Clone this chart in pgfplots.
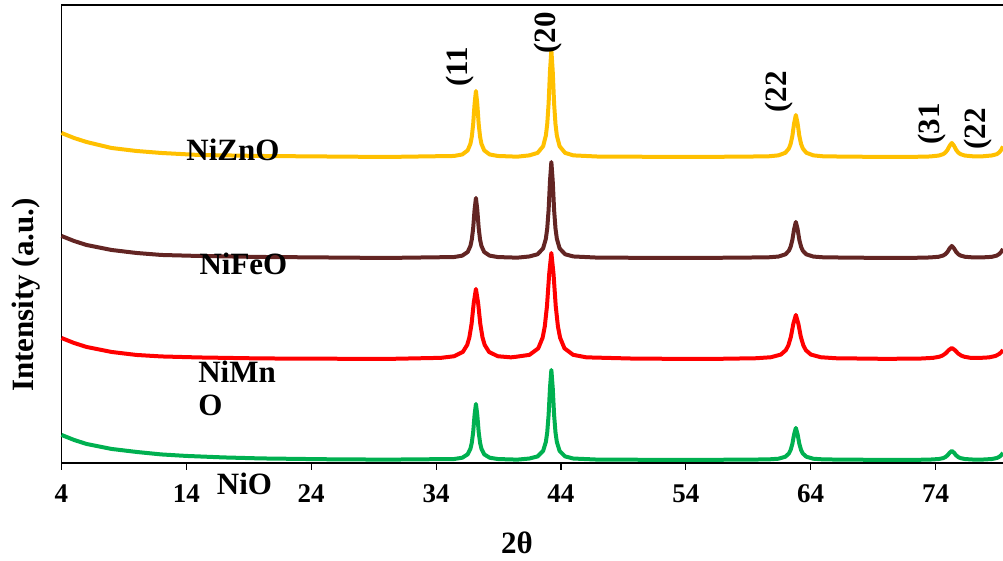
\documentclass[border=0pt]{standalone}
\usepackage{pgfplots}
\pgfplotsset{compat=1.18}
\usepackage{fontspec}
\setmainfont{Liberation Serif}
\definecolor{cZn}{RGB}{255,192,0}
\definecolor{cFe}{RGB}{99,37,35}
\definecolor{cMn}{RGB}{255,0,0}
\definecolor{cNi}{RGB}{0,176,80}
\newcommand\lbl{\fontsize{15.5}{18}\selectfont\bfseries}
\newcommand\tkl{\fontsize{13.5}{16}\selectfont\bfseries}
\begin{document}
\begin{tikzpicture}
\begin{axis}[
  scale only axis, width=474.6pt, height=229pt,
  xmin=4, xmax=80, ymin=0, ymax=458,
  xtick={4,14,...,74}, ytick=\empty,
  xtick pos=left, tick align=outside, major tick length=3.5pt,
  axis line style={line width=0.9pt},
  every tick/.style={black, line width=0.6pt},
  xticklabel style={font=\tkl, yshift=-4pt},
  /pgf/number format/assume math mode=true,
  clip=false,
  every axis plot/.append style={line width=2pt, line join=round, no markers},
]
\addplot[cNi] coordinates {
(4,28)(5,23)(6,19)(8,14)(10,11)(12,8.5)(14,7)(17,5.5)(20,4.5)(25,3.7)(30,3.3)
(35.43,3.9)(36.09,5.2)(36.53,8.6)(36.75,14.2)(36.86,20.2)(36.97,31)(37.08,47.8)(37.19,59)(37.30,47.8)(37.41,31)(37.52,20.2)(37.63,14.2)(37.85,8.6)(38.29,5.2)(38.95,3.9)
(40.5,3.3)
(41.47,4.4)(42.13,6.5)(42.57,12)(42.79,21)(42.90,30.7)(43.01,48)(43.12,75)(43.23,93)(43.34,75)(43.45,48)(43.56,30.7)(43.67,21)(43.89,12)(44.33,6.5)(44.99,4.4)
(47,3.3)(55,3)
(60.57,3.5)(61.41,4.2)(61.97,6.2)(62.25,9.4)(62.39,12.9)(62.53,19)(62.67,28.6)(62.81,35)(62.95,28.6)(63.09,19)(63.23,12.9)(63.37,9.4)(63.65,6.2)(64.21,4.2)(65.05,3.5)
(70,3)
(72.5,3.1)(73.55,3.35)(74.25,3.9)(74.6,4.8)(74.775,5.8)(74.95,7.5)(75.125,10.2)(75.3,12)(75.475,10.2)(75.65,7.5)(75.825,5.8)(76.0,4.8)(76.35,3.9)(77.05,3.35)(77.8,3.4)(78.5,3.9)(78.9,4.9)(79.1,6.1)(79.25,7.7)(79.4,10)
};
\addplot[cMn] coordinates {
(4,125)(5,120)(6,116)(8,111)(10,108)(12,106.5)(15,105.5)(20,104.5)(30,104)
(34.39,105.1)(35.44,106.7)(36.14,111)(36.49,118)(36.665,125.6)(36.84,139)(37.015,160)(37.19,174)(37.365,160)(37.54,139)(37.715,125.6)(37.89,118)(38.24,111)(38.94,106.7)(39.99,105.6)
(40.43,106.2)(41.48,108.1)(42.18,114.6)(42.53,125.2)(42.705,136.6)(42.88,157)(43.055,188.8)(43.23,210)(43.405,188.8)(43.58,157)(43.755,136.6)(43.93,125.2)(44.28,114.6)(44.98,108.1)(46.03,105.6)
(50,104.3)(56,104)
(59.61,104.7)(60.81,105.7)(61.61,108.4)(62.01,112.8)(62.21,117.6)(62.41,126)(62.61,139.2)(62.81,148)(63.01,139.2)(63.21,126)(63.41,117.6)(63.61,112.8)(64.01,108.4)(64.81,105.7)(66.01,104.7)
(70,104.1)
(72.8,104.4)(73.8,105.1)(74.3,106.2)(74.55,107.4)(74.8,109.5)(75.05,112.8)(75.3,115)(75.55,112.8)(75.8,109.5)(76.05,107.4)(76.3,106.2)(76.8,105.1)(77.8,105.2)(78.3,105.6)(78.8,107)(79.1,109)(79.25,110.7)(79.4,112.9)
};
\addplot[cFe] coordinates {
(4,227)(5,222)(6,218)(8,213)(10,210)(12,208)(15,207)(20,206)(30,205)
(35.43,205.9)(36.09,207.3)(36.53,211)(36.75,217)(36.86,223.5)(36.97,235)(37.08,253)(37.19,265)(37.30,253)(37.41,235)(37.52,223.5)(37.63,217)(37.85,211)(38.29,207.3)(38.95,205.9)
(40.5,205.3)
(41.47,206.5)(42.13,208.7)(42.57,214.6)(42.79,224.2)(42.90,234.6)(43.01,253)(43.12,281.8)(43.23,301)(43.34,281.8)(43.45,253)(43.56,234.6)(43.67,224.2)(43.89,214.6)(44.33,208.7)(44.99,206.5)
(47,205.3)(55,205)
(60.57,205.6)(61.41,206.4)(61.97,208.6)(62.25,212.2)(62.39,216.1)(62.53,223)(62.67,233.8)(62.81,241)(62.95,233.8)(63.09,223)(63.23,216.1)(63.37,212.2)(63.65,208.6)(64.21,206.4)(65.05,205.6)
(70,205)
(72.5,205.2)(73.55,205.5)(74.25,206.2)(74.6,207.4)(74.775,208.7)(74.95,211)(75.125,214.6)(75.3,217)(75.475,214.6)(75.65,211)(75.825,208.7)(76.0,207.4)(76.35,206.2)(77.05,205.5)(77.8,205.6)(78.5,206.1)(78.9,207.4)(79.1,209)(79.25,211)(79.4,214)
};
\addplot[cZn] coordinates {
(4,330)(5,325)(6,321)(7,318)(8,315)(10,312)(12,310)(15,308)(20,307)(25,306.5)(30,306)
(35.43,307)(36.09,308.5)(36.53,312.6)(36.75,319.2)(36.86,326.3)(36.97,339)(37.08,358.8)(37.19,372)(37.30,358.8)(37.41,339)(37.52,326.3)(37.63,319.2)(37.85,312.6)(38.29,308.5)(38.95,307)
(40.5,306.3)
(41.47,307.6)(42.13,310.1)(42.57,316.7)(42.79,327.4)(42.90,339)(43.01,359.5)(43.12,391.6)(43.23,413)(43.34,391.6)(43.45,359.5)(43.56,339)(43.67,327.4)(43.89,316.7)(44.33,310.1)(44.99,307.6)
(47,306.4)(55,306)
(60.57,306.6)(61.41,307.6)(61.97,310.2)(62.25,314.4)(62.39,318.9)(62.53,327)(62.67,339.6)(62.81,348)(62.95,339.6)(63.09,327)(63.23,318.9)(63.37,314.4)(63.65,310.2)(64.21,307.6)(65.05,306.6)
(70,306)
(72.5,306.2)(73.55,306.5)(74.25,307.4)(74.6,308.8)(74.775,310.3)(74.95,313)(75.125,317.2)(75.3,320)(75.475,317.2)(75.65,313)(75.825,310.3)(76.0,308.8)(76.35,307.4)(77.05,306.6)(77.8,306.7)(78.5,307.5)(78.9,308.8)(79.1,310.6)(79.25,313)(79.4,316.5)
};
% peak labels
\node[font=\lbl, rotate=90] at (axis cs:35.9,396) {(11};
\node[font=\lbl, rotate=90] at (axis cs:42.95,430) {(20};
\node[font=\lbl, rotate=90] at (axis cs:61.45,371) {(22};
\node[font=\lbl, rotate=90] at (axis cs:73.7,339) {(31};
\node[font=\lbl, rotate=90] at (axis cs:77.4,334) {(22};
% series labels
\node[font=\lbl] at (axis cs:17.73,313) {NiZnO};
\node[font=\lbl] at (axis cs:18.57,199.5) {NiFeO};
\node[font=\lbl, anchor=west, inner sep=0pt] at (axis cs:14.93,91) {NiMn};
\node[font=\lbl, anchor=west, inner sep=0pt] at (axis cs:14.93,58) {O};
\node[font=\lbl] at (axis cs:18.66,-21) {NiO};
% axis titles
\node[font=\lbl, rotate=90] at ([xshift=-17.5pt]axis cs:4,168) {Intensity (a.u.)};
\node[font=\lbl] at ([yshift=-40pt]axis cs:40.47,0) {2θ};
\coordinate (BL) at ([xshift=-30.75pt,yshift=-49pt]axis cs:4,0);
\coordinate (TR) at ([yshift=2.5pt]axis cs:79.4,458);
\end{axis}
\pgfresetboundingbox
\path[use as bounding box] (BL) rectangle (TR);
\end{tikzpicture}
\end{document}
